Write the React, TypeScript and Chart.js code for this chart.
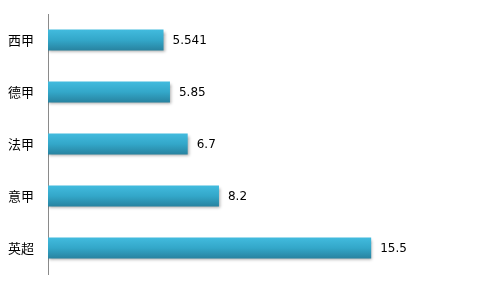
import React, { useEffect, useRef } from "react";
import { Chart, registerables } from "chart.js";

Chart.register(...registerables);

const categories = ["西甲", "德甲", "法甲", "意甲", "英超"];
const values = [5.541, 5.85, 6.7, 8.2, 15.5];
const valueLabels = ["5.541", "5.85", "6.7", "8.2", "15.5"];

export default function App() {
  const ref = useRef<HTMLCanvasElement | null>(null);
  useEffect(() => {
    document.body.style.margin = "0";
    const canvas = ref.current!;
    const shadowPlugin = {
      id: "barShadow",
      beforeDatasetDraw(chart: any) {
        const ctx = chart.ctx;
        ctx.save();
        ctx.shadowColor = "rgba(0,0,0,0.35)";
        ctx.shadowOffsetX = 1;
        ctx.shadowOffsetY = 2;
        ctx.shadowBlur = 3;
      },
      afterDatasetDraw(chart: any) {
        chart.ctx.restore();
      },
    };
    const labelPlugin = {
      id: "valueLabels",
      afterDatasetsDraw(chart: any) {
        const ctx = chart.ctx;
        const meta = chart.getDatasetMeta(0);
        ctx.save();
        ctx.fillStyle = "#000";
        ctx.font = "12px 'DejaVu Sans', sans-serif";
        ctx.textAlign = "left";
        ctx.textBaseline = "middle";
        meta.data.forEach((bar: any, i: number) => {
          ctx.fillText(valueLabels[i], bar.x + 9, bar.y + 1);
        });
        ctx.restore();
      },
    };
    const chart = new Chart(canvas, {
      type: "bar",
      data: {
        labels: categories,
        datasets: [
          {
            data: values,
            backgroundColor: (c: any) => {
              const ch = c.chart;
              const el = c.element;
              const y = el ? el.y : NaN;
              const h = el ? el.height : NaN;
              if (!ch.chartArea || !isFinite(y) || !isFinite(h) || h <= 0) return "#34a9cb";
              const g = ch.ctx.createLinearGradient(0, y - h / 2, 0, y + h / 2);
              g.addColorStop(0, "#42bbde");
              g.addColorStop(0.5, "#33a7c9");
              g.addColorStop(1, "#2883a0");
              return g;
            },
            borderWidth: 0,
            barPercentage: 0.8,
            categoryPercentage: 0.5,
          },
        ],
      },
      options: {
        indexAxis: "y",
        animation: false,
        responsive: false,
        maintainAspectRatio: false,
        layout: { padding: { top: 14, bottom: 14, right: 15, left: 0 } },
        plugins: { legend: { display: false }, tooltip: { enabled: false } },
        scales: {
          x: { display: false, min: 0, max: 20 },
          y: {
            afterFit: (s: any) => {
              s.width = 48;
              s.paddingTop = 0;
              s.paddingBottom = 0;
            },
            grid: { display: false, drawTicks: false },
            border: { display: true, color: "#8a8a8a", width: 1 },
            ticks: {
              padding: 14,
              color: "#000",
              font: { size: 13, family: "'Noto Sans CJK SC', sans-serif" },
            },
          },
        },
      },
      plugins: [shadowPlugin, labelPlugin],
    } as any);
    chart.update();
    return () => chart.destroy();
  }, []);
  return <canvas ref={ref} width={480} height={288} style={{ display: "block" }} />;
}
